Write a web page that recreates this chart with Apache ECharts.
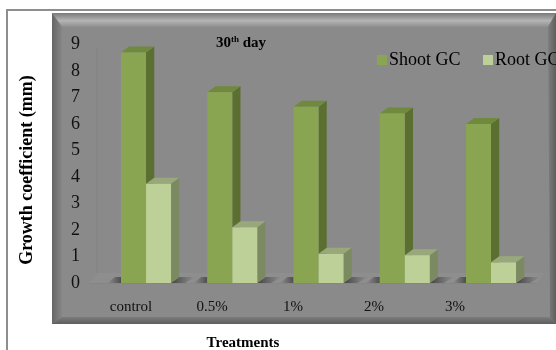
<!DOCTYPE html>
<html>
<head>
<meta charset="utf-8">
<script src="https://cdn.jsdelivr.net/npm/echarts@6/dist/echarts.min.js"></script>
<style>
  html, body { margin: 0; padding: 0; background: #ffffff; }
  #chart { width: 556px; height: 350px; }
</style>
</head>
<body>
<div id="chart"></div>
<script>
// Growth coefficient (mm) by treatment, 30th day
const categories = ['control', '0.5%', '1%', '2%', '3%'];
const shootGC = [8.7, 7.2, 6.65, 6.4, 6.0];
const rootGC = [3.75, 2.1, 1.1, 1.05, 0.78];
const yTicks = [0, 1, 2, 3, 4, 5, 6, 7, 8, 9];

const FONT = '"Liberation Serif", "Times New Roman", serif';

const palette = {
  shoot: { front: '#8aa551', top: '#6f8a3d', side: '#5b6f31' },
  root:  { front: '#bdd097', top: '#98a87b', side: '#7c8a62' }
};

// 3-D column: front face + top face + right side face
function makeRenderer(colors, onLeft) {
  return function (params, api) {
    const idx = api.value(0);
    const val = api.value(1);
    const band = api.size([1, 0])[0];
    const w = band * 0.29;
    const dx = band * 0.095;
    const dy = 6;
    const topPt = api.coord([idx, val]);
    const basePt = api.coord([idx, 0]);
    const x0 = onLeft ? topPt[0] - w : topPt[0];
    const x1 = x0 + w;
    const yt = topPt[1];
    const yb = basePt[1];
    const children = [];
    // floor shadow
    if (onLeft) {
      children.push({
        type: 'polygon',
        shape: { points: [[x0 - 14, yb], [x0 - 6, yb - dy], [x0, yb - dy], [x0, yb]] },
        style: { fill: new echarts.graphic.LinearGradient(0, 0, 1, 0, [
          { offset: 0, color: 'rgba(60,60,60,0)' }, { offset: 1, color: 'rgba(50,50,50,0.7)' }]) }
      });
    } else {
      children.push({
        type: 'polygon',
        shape: { points: [[x1, yb], [x1 + dx, yb - dy], [x1 + dx + 16, yb - dy], [x1 + 14, yb]] },
        style: { fill: new echarts.graphic.LinearGradient(0, 0, 1, 0, [
          { offset: 0, color: 'rgba(40,40,40,0.75)' }, { offset: 1, color: 'rgba(60,60,60,0)' }]) }
      });
    }
    children.push({
      type: 'polygon',
      shape: { points: [[x1, yt], [x1 + dx, yt - dy], [x1 + dx, yb - dy], [x1, yb]] },
      style: { fill: colors.side }
    });
    children.push({
      type: 'polygon',
      shape: { points: [[x0, yt], [x1, yt], [x1 + dx, yt - dy], [x0 + dx, yt - dy]] },
      style: { fill: colors.top }
    });
    children.push({
      type: 'rect',
      shape: { x: x0, y: yt, width: w, height: yb - yt },
      style: { fill: colors.front }
    });
    return { type: 'group', children: children };
  };
}

const chart = echarts.init(document.getElementById('chart'), null, { renderer: 'canvas' });

const panelX0 = 52, panelY0 = 13, panelX1 = 556, panelY1 = 324;

const legendText = { fontFamily: FONT, fontSize: 18, color: '#000000', padding: [0, 0, 0, -3] };

chart.setOption({
  backgroundColor: '#ffffff',
  animation: false,
  textStyle: { fontFamily: FONT },
  graphic: [
    // outer frame
    { type: 'rect', z: -20, shape: { x: 7, y: 10, width: 560, height: 350 },
      style: { fill: '#ffffff', stroke: '#8e8e8e', lineWidth: 2 } },
    // grey panel
    { type: 'rect', z: -19, shape: { x: panelX0, y: panelY0, width: panelX1 - panelX0, height: panelY1 - panelY0 },
      style: { fill: '#8a8a8a' } },
    // bevels
    { type: 'polygon', z: -18, shape: { points: [[panelX0, panelY0], [panelX1, panelY0], [panelX1 - 8, panelY0 + 14], [panelX0 + 10, panelY0 + 14]] },
      style: { fill: new echarts.graphic.LinearGradient(0, 0, 0, 1, [
        { offset: 0, color: '#7a7a7a' }, { offset: 0.55, color: '#b5b5b5' }, { offset: 1, color: '#8e8e8e' }]) } },
    { type: 'polygon', z: -18, shape: { points: [[panelX0, panelY0], [panelX0 + 10, panelY0 + 14], [panelX0 + 10, panelY1 - 7], [panelX0, panelY1]] },
      style: { fill: new echarts.graphic.LinearGradient(0, 0, 1, 0, [
        { offset: 0, color: '#666666' }, { offset: 1, color: '#868686' }]) } },
    { type: 'polygon', z: -18, shape: { points: [[panelX0, panelY1], [panelX0 + 10, panelY1 - 7], [panelX1 - 6, panelY1 - 7], [panelX1, panelY1]] },
      style: { fill: new echarts.graphic.LinearGradient(0, 0, 0, 1, [
        { offset: 0, color: '#7c7c7c' }, { offset: 1, color: '#5e5e5e' }]) } },
    { type: 'polygon', z: -18, shape: { points: [[panelX1, panelY0], [panelX1 - 8, panelY0 + 14], [panelX1 - 6, panelY1 - 7], [panelX1, panelY1]] },
      style: { fill: new echarts.graphic.LinearGradient(0, 0, 1, 0, [
        { offset: 0, color: '#7e7e7e' }, { offset: 1, color: '#5f5f5f' }]) } },
    // wall edge and floor
    { type: 'line', z: -17, shape: { x1: 97, y1: 47, x2: 97, y2: 273 },
      style: { stroke: '#828282', lineWidth: 1 } },
    { type: 'polygon', z: -17, shape: { points: [[97, 273], [545, 273], [537, 283], [89, 283]] },
      style: { fill: '#8e8e8e' } },
    { type: 'line', z: -17, shape: { x1: 89, y1: 283.5, x2: 537, y2: 283.5 },
      style: { stroke: '#858585', lineWidth: 1 } },
    // axis titles
    { type: 'text', z: 10, x: 27, y: 170, rotation: Math.PI / 2,
      style: { text: 'Growth coefficient (mm)', fontFamily: FONT, fontWeight: 'bold', fontSize: 18,
        fill: '#000000', align: 'center', verticalAlign: 'middle' } },
    { type: 'text', z: 10, x: 243, y: 343,
      style: { text: 'Treatments', fontFamily: FONT, fontWeight: 'bold', fontSize: 15,
        fill: '#000000', align: 'center', verticalAlign: 'middle' } }
  ],
  title: {
    text: '{a|30}{s|th}{a| day}',
    left: 211,
    top: 30,
    textStyle: {
      rich: {
        a: { fontFamily: FONT, fontWeight: 'bold', fontSize: 15, color: '#000000', verticalAlign: 'bottom', lineHeight: 16 },
        s: { fontFamily: FONT, fontWeight: 'bold', fontSize: 9, color: '#000000', verticalAlign: 'top', lineHeight: 16, padding: [0, 0, 6, 0] }
      }
    }
  },
  legend: [
    { left: 372, top: 46, itemWidth: 10, itemHeight: 10, icon: 'rect',
      data: ['Shoot GC'], textStyle: legendText },
    { left: 478, top: 46, itemWidth: 10, itemHeight: 10, icon: 'rect',
      data: ['Root GC'], textStyle: legendText }
  ],
  grid: [
    { left: 102.9, right: 21.85, top: 44.5, bottom: 67 },
    { left: 90.5, width: 405, top: 44.5, bottom: 67 }
  ],
  xAxis: [
    { type: 'category', gridIndex: 0, data: categories,
      axisLine: { show: false }, axisTick: { show: false }, axisLabel: { show: false } },
    { type: 'category', gridIndex: 1, data: categories,
      axisLine: { show: false }, axisTick: { show: false },
      axisLabel: { margin: 17, fontFamily: FONT, fontSize: 15, color: '#111111' } }
  ],
  yAxis: [
    { type: 'value', gridIndex: 0, min: yTicks[0], max: yTicks[yTicks.length - 1], interval: 1,
      axisLine: { show: false }, axisTick: { show: false }, splitLine: { show: false },
      axisLabel: { margin: 23, fontFamily: FONT, fontSize: 18, color: '#111111', padding: [7, 0, 0, 0] } },
    { type: 'value', gridIndex: 1, min: 0, max: 9, show: false }
  ],
  series: [
    {
      name: 'Shoot GC', type: 'custom', xAxisIndex: 0, yAxisIndex: 0,
      itemStyle: { color: palette.shoot.front },
      renderItem: makeRenderer(palette.shoot, true),
      encode: { x: 0, y: 1 },
      data: shootGC.map((v, i) => [i, v])
    },
    {
      name: 'Root GC', type: 'custom', xAxisIndex: 0, yAxisIndex: 0,
      itemStyle: { color: palette.root.front },
      renderItem: makeRenderer(palette.root, false),
      encode: { x: 0, y: 1 },
      data: rootGC.map((v, i) => [i, v])
    }
  ]
});
</script>
</body>
</html>
